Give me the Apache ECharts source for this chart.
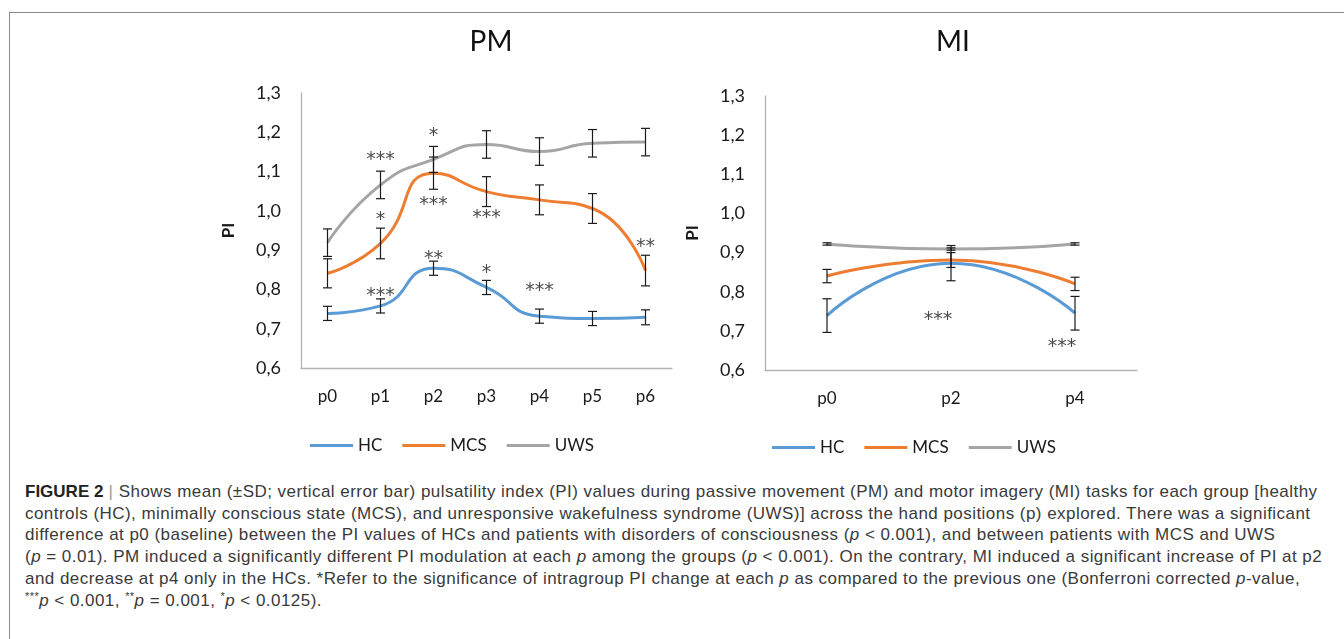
<!DOCTYPE html>
<html>
<head>
<meta charset="utf-8">
<script src="https://cdn.jsdelivr.net/npm/echarts@6/dist/echarts.min.js"></script>
<style>
    body { margin: 0; background: #fff; }
    #frame {
        position: absolute; left: 9px; top: 12px; right: 0; bottom: 0;
        border-top: 1.5px solid #8a8a8a; border-left: 1.5px solid #8a8a8a;
    }
    #chart { position: absolute; left: 0; top: 0; width: 1344px; height: 470px; }
    #caption {
        position: absolute; left: 25px; top: 481px;
        font-family: "Liberation Sans", Arial, sans-serif; font-size: 17px; letter-spacing: 0.46px;
        line-height: 21.7px; color: #3a3a3a; white-space: nowrap;
    }
    #caption b { font-weight: bold; color: #222; letter-spacing: 0; }
    #caption .bar { color: #999; }
    #caption sup { font-size: 11px; vertical-align: 6px; line-height: 0; }
</style>
</head>
<body>
<div id="frame"></div>
<div id="chart"></div>
<div id="caption">
<b>FIGURE 2</b> <span class="bar">|</span> Shows mean (±SD; vertical error bar) pulsatility index (PI) values during passive movement (PM) and motor imagery (MI) tasks for each group [healthy<br>
controls (HC), minimally conscious state (MCS), and unresponsive wakefulness syndrome (UWS)] across the hand positions (p) explored. There was a significant<br>
difference at p0 (baseline) between the PI values of HCs and patients with disorders of consciousness (<i>p</i> &lt; 0.001), and between patients with MCS and UWS<br>
(<i>p</i> = 0.01). PM induced a significantly different PI modulation at each <i>p</i> among the groups (<i>p</i> &lt; 0.001). On the contrary, MI induced a significant increase of PI at p2<br>
and decrease at p4 only in the HCs. *Refer to the significance of intragroup PI change at each <i>p</i> as compared to the previous one (Bonferroni corrected <i>p</i>-value,<br>
<sup>***</sup><i>p</i> &lt; 0.001, <sup>**</sup><i>p</i> = 0.001, <sup>*</sup><i>p</i> &lt; 0.0125).
</div>
<script>
// passive movement (PM)
var categoriesPM = ['p0', 'p1', 'p2', 'p3', 'p4', 'p5', 'p6'];
var hcPM = [0.739, 0.758, 0.854, 0.805, 0.732, 0.726, 0.729];
var hcPMsd = [0.018, 0.018, 0.018, 0.018, 0.018, 0.018, 0.019];
var mcsPM = [0.841, 0.917, 1.096, 1.049, 1.028, 1.006, 0.848];
var mcsPMsd = [0.037, 0.039, 0.041, 0.038, 0.038, 0.038, 0.039];
var uwsPM = [0.919, 1.066, 1.131, 1.169, 1.151, 1.172, 1.175];
var uwsPMsd = [0.035, 0.035, 0.033, 0.035, 0.035, 0.035, 0.035];
// significance marks: [category index, value, text]
var starsPM = [[1, 1.144, '***'], [2, 1.206, '*'], [1, 0.992, '*'], [2, 1.030, '***'], [3, 0.998, '***'],
    [6, 0.924, '**'], [2, 0.893, '**'], [3, 0.858, '*'], [1, 0.798, '***'], [4, 0.811, '***']];

// motor imagery (MI)
var categoriesMI = ['p0', 'p2', 'p4'];
var hcMI = [0.739, 0.873, 0.745];
var hcMIsd = [0.043, 0.045, 0.043];
var mcsMI = [0.840, 0.881, 0.820];
var mcsMIsd = [0.017, 0.019, 0.017];
var uwsMI = [0.922, 0.909, 0.922];
var uwsMIsd = [0.003, 0.003, 0.003];
var starsMI = [[1, 0.742, '***'], [2, 0.675, '***']];

var yTicks = { min: 0.6, max: 1.3, interval: 0.1 };
var colors = { HC: '#5B9BD5', MCS: '#ED7D31', UWS: '#A5A5A5' };
var chartFont = 'Lato, "Open Sans", sans-serif';

function errorData(means, sds) {
    return means.map(function (m, i) { return [i, m, sds[i]]; });
}

function renderError(params, api) {
    var i = api.value(0), m = api.value(1), sd = api.value(2);
    var top = api.coord([i, m + sd]);
    var bot = api.coord([i, m - sd]);
    var w = 4.5;
    var style = { stroke: '#1a1a1a', lineWidth: 1.2 };
    return {
        type: 'group',
        children: [
            { type: 'line', shape: { x1: top[0], y1: top[1], x2: bot[0], y2: bot[1] }, style: style },
            { type: 'line', shape: { x1: top[0] - w, y1: top[1], x2: top[0] + w, y2: top[1] }, style: style },
            { type: 'line', shape: { x1: bot[0] - w, y1: bot[1], x2: bot[0] + w, y2: bot[1] }, style: style }
        ]
    };
}

function lineSeries(name, data, idx) {
    return {
        name: name, type: 'line', data: data, xAxisIndex: idx, yAxisIndex: idx,
        smooth: 0.55, showSymbol: false, color: colors[name],
        lineStyle: { width: 3, color: colors[name] }, z: 3
    };
}

function errSeries(data, idx) {
    return {
        type: 'custom', renderItem: renderError, data: data, xAxisIndex: idx, yAxisIndex: idx,
        z: 4, silent: true
    };
}

function starSeries(data, idx, dx) {
    return {
        type: 'scatter', data: data, xAxisIndex: idx, yAxisIndex: idx, symbolSize: 0, z: 5,
        label: {
            show: true, position: 'inside', offset: [dx, 6],
            formatter: function (p) { return p.data[2]; },
            fontFamily: 'DejaVu Sans', fontSize: 19, color: '#1a1a1a', letterSpacing: 1.5
        }
    };
}

function yAxis(idx) {
    return {
        type: 'value', gridIndex: idx, min: yTicks.min, max: yTicks.max, interval: yTicks.interval,
        name: 'PI', nameLocation: 'middle', nameGap: 64,
        nameTextStyle: { fontFamily: chartFont, fontWeight: 'bold', fontSize: 17, color: '#1a1a1a' },
        axisLine: { show: true, lineStyle: { color: '#b3b3b3', width: 1.3 } },
        axisTick: { show: false }, splitLine: { show: false },
        axisLabel: {
            margin: 20, fontFamily: chartFont, fontSize: 18, color: '#1a1a1a',
            formatter: function (v) { return v.toFixed(1).replace('.', ','); }
        }
    };
}

function xAxis(idx, cats) {
    return {
        type: 'category', gridIndex: idx, data: cats, boundaryGap: true,
        axisLine: { lineStyle: { color: '#b3b3b3', width: 1.3 } },
        axisTick: { show: false },
        axisLabel: { margin: 20, fontFamily: chartFont, fontSize: 17, color: '#1a1a1a' }
    };
}

function legend(left, top) {
    return {
        left: left, top: top, icon: 'rect', itemWidth: 43, itemHeight: 3, itemGap: 20,
        data: ['HC', 'MCS', 'UWS'],
        textStyle: { fontFamily: chartFont, fontSize: 17, color: '#1a1a1a' }
    };
}

var chart = echarts.init(document.getElementById('chart'));
chart.setOption({
    animation: false,
    title: [
        { text: 'PM', left: 486, top: 23, textAlign: 'center',
          textStyle: { fontFamily: chartFont, fontWeight: 'normal', fontSize: 28, color: '#111' } },
        { text: 'MI', left: 948, top: 23, textAlign: 'center',
          textStyle: { fontFamily: chartFont, fontWeight: 'normal', fontSize: 28, color: '#111' } }
    ],
    legend: [legend(305, 432), legend(767, 434)],
    grid: [
        { left: 301, top: 93, width: 371, height: 275 },
        { left: 765, top: 96, width: 372, height: 274 }
    ],
    xAxis: [xAxis(0, categoriesPM), xAxis(1, categoriesMI)],
    yAxis: [yAxis(0), yAxis(1)],
    series: [
        lineSeries('HC', hcPM, 0),
        lineSeries('MCS', mcsPM, 0),
        lineSeries('UWS', uwsPM, 0),
        errSeries(errorData(hcPM, hcPMsd), 0),
        errSeries(errorData(mcsPM, mcsPMsd), 0),
        errSeries(errorData(uwsPM, uwsPMsd), 0),
        starSeries(starsPM, 0, 0),
        lineSeries('HC', hcMI, 1),
        lineSeries('MCS', mcsMI, 1),
        lineSeries('UWS', uwsMI, 1),
        errSeries(errorData(hcMI, hcMIsd), 1),
        errSeries(errorData(mcsMI, mcsMIsd), 1),
        errSeries(errorData(uwsMI, uwsMIsd), 1),
        starSeries(starsMI, 1, -13)
    ]
});
</script>
</body>
</html>
